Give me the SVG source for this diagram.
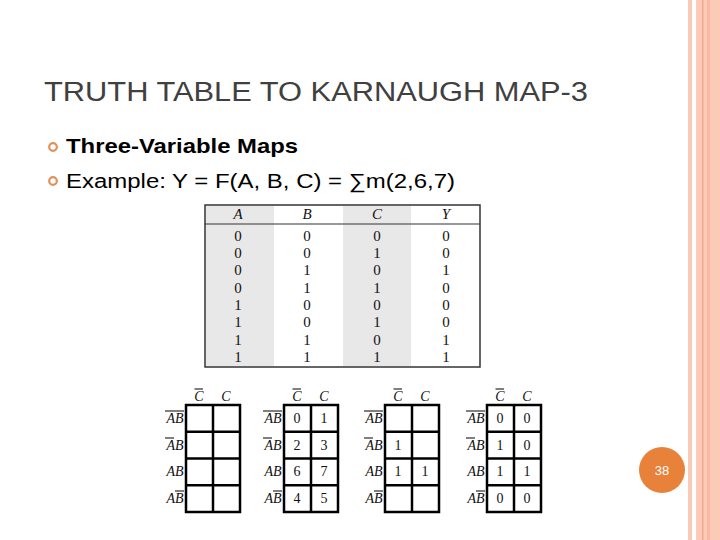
<svg xmlns="http://www.w3.org/2000/svg" width="720" height="540" viewBox="0 0 720 540">
<style>
.t{font-family:"Liberation Sans",Arial,sans-serif;fill:#000}
.s{font-family:"Liberation Serif","Times New Roman",serif;fill:#111}
.i{font-style:italic}
.g{fill:none;stroke:#000;stroke-width:2.5}
.o{stroke:#000;stroke-width:1}
</style>
<rect width="720" height="540" fill="#fff"/>
<g id="border">
<rect x="688" y="0" width="4" height="540" fill="#f9c9b6"/>
<rect x="696" y="0" width="24" height="540" fill="#fbcbb8"/>
<rect x="702" y="0" width="1.5" height="540" fill="#f0a890"/>
<rect x="707" y="0" width="3" height="540" fill="#f7b9a2"/>
</g>
<text class="t" x="44" y="101" font-size="27" textLength="544" lengthAdjust="spacingAndGlyphs" style="fill:#404040">TRUTH TABLE TO KARNAUGH MAP-3</text>
<g fill="none" stroke="#e0915a" stroke-width="2.2">
<circle cx="53" cy="147" r="3.8"/><circle cx="53" cy="181" r="3.8"/>
</g>
<text class="t" x="66" y="153" font-size="21" font-weight="bold" textLength="232" lengthAdjust="spacingAndGlyphs">Three-Variable Maps</text>
<text class="t" x="66" y="188" font-size="20" textLength="389" lengthAdjust="spacingAndGlyphs">Example: Y = F(A, B, C) = ∑m(2,6,7)</text>
<g id="truth-table">
<rect x="205" y="205" width="275" height="162" fill="#fff" stroke="#333" stroke-width="1.5"/>
<rect x="206" y="206" width="68" height="160" fill="#e8e8e8"/>
<rect x="343" y="206" width="68" height="160" fill="#e8e8e8"/>
<line x1="205" y1="224" x2="480" y2="224" stroke="#333" stroke-width="1.2"/>
<g class="s" font-size="15" text-anchor="middle">
<text class="i" x="238" y="219">A</text><text class="i" x="307" y="219">B</text><text class="i" x="377" y="219">C</text><text class="i" x="446" y="219">Y</text>
<text x="238" y="241">0</text><text x="307" y="241">0</text><text x="377" y="241">0</text><text x="446" y="241">0</text>
<text x="238" y="258">0</text><text x="307" y="258">0</text><text x="377" y="258">1</text><text x="446" y="258">0</text>
<text x="238" y="275">0</text><text x="307" y="275">1</text><text x="377" y="275">0</text><text x="446" y="275">1</text>
<text x="238" y="293">0</text><text x="307" y="293">1</text><text x="377" y="293">1</text><text x="446" y="293">0</text>
<text x="238" y="310">1</text><text x="307" y="310">0</text><text x="377" y="310">0</text><text x="446" y="310">0</text>
<text x="238" y="327">1</text><text x="307" y="327">0</text><text x="377" y="327">1</text><text x="446" y="327">0</text>
<text x="238" y="345">1</text><text x="307" y="345">1</text><text x="377" y="345">0</text><text x="446" y="345">1</text>
<text x="238" y="362">1</text><text x="307" y="362">1</text><text x="377" y="362">1</text><text x="446" y="362">1</text>
</g>
</g>
<defs>
<g id="kgrid">
<rect x="0" y="0" width="54" height="107" class="g"/>
<line x1="27" y1="0" x2="27" y2="107" class="g"/>
<line x1="0" y1="26.7" x2="54" y2="26.7" class="g"/>
<line x1="0" y1="53.5" x2="54" y2="53.5" class="g"/>
<line x1="0" y1="80.2" x2="54" y2="80.2" class="g"/>
<g class="s i" font-size="14" text-anchor="middle">
<text x="13" y="-4">C</text><text x="40" y="-4">C</text>
<text x="-11" y="18">AB</text><text x="-11" y="45">AB</text><text x="-11" y="71">AB</text><text x="-11" y="98">AB</text>
</g>
<line x1="8.5" y1="-16" x2="17" y2="-16" class="o"/>
<line x1="-21" y1="6" x2="-2" y2="6" class="o"/>
<line x1="-21" y1="33" x2="-12" y2="33" class="o"/>
<line x1="-11" y1="86" x2="-2" y2="86" class="o"/>
</g>
</defs>
<g id="map1"><use href="#kgrid" x="186" y="405"/></g>
<g id="map2"><use href="#kgrid" x="284" y="405"/>
<g class="s" font-size="14" text-anchor="middle">
<text x="297" y="423">0</text><text x="324" y="423">1</text>
<text x="297" y="450">2</text><text x="324" y="450">3</text>
<text x="297" y="476">6</text><text x="324" y="476">7</text>
<text x="297" y="503">4</text><text x="324" y="503">5</text>
</g></g>
<g id="map3"><use href="#kgrid" x="385" y="405"/>
<g class="s" font-size="14" text-anchor="middle">
<text x="398" y="450">1</text>
<text x="398" y="476">1</text><text x="425" y="476">1</text>
</g></g>
<g id="map4"><use href="#kgrid" x="487" y="405"/>
<g class="s" font-size="14" text-anchor="middle">
<text x="500" y="423">0</text><text x="527" y="423">0</text>
<text x="500" y="450">1</text><text x="527" y="450">0</text>
<text x="500" y="476">1</text><text x="527" y="476">1</text>
<text x="500" y="503">0</text><text x="527" y="503">0</text>
</g></g>
<g id="page">
<circle cx="662" cy="470" r="23" fill="#e8813a"/>
<text class="t" x="662" y="475" font-size="13" text-anchor="middle" style="fill:#fff">38</text>
</g>
</svg>
